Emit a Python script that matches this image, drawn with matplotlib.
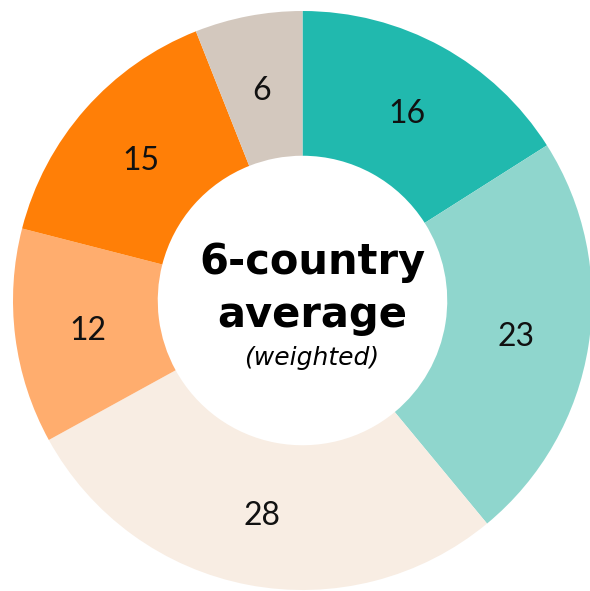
import matplotlib
matplotlib.use("Agg")
import matplotlib.pyplot as plt

values = [16, 23, 28, 12, 15, 6]
labels = ["16", "23", "28", "12", "15", "6"]
colors = ["#21B9AE", "#8FD6CD", "#F8EDE3", "#FFAD6E", "#FF7F07", "#D3C8BE"]

plt.rcParams["font.family"] = ["Lato", "DejaVu Sans"]

fig = plt.figure(figsize=(5.9, 5.91), dpi=100)
ax = fig.add_axes([0, 0, 1, 1])

cx, cy, r = 302.5, 290.5, 289.5
wedges, texts = ax.pie(
    values,
    labels=labels,
    colors=colors,
    startangle=90,
    counterclock=False,
    center=(cx, cy),
    radius=r,
    labeldistance=0.746,
    wedgeprops=dict(width=r * 0.5, linewidth=0),
    textprops=dict(fontsize=23, color="#111111", ha="center",
                   va="center_baseline"),
    frame=True,
)
ax.set_xlim(0, 590)
ax.set_ylim(0, 591)
ax.set_aspect("equal")
ax.axis("off")

tx = 312
ax.text(tx, 591 - 262, "6-country", ha="center", va="center",
        fontsize=30, fontweight="bold", family="DejaVu Sans", color="black")
ax.text(tx, 591 - 315, "average", ha="center", va="center",
        fontsize=30, fontweight="bold", family="DejaVu Sans", color="black")
ax.text(tx, 591 - 358, "(weighted)", ha="center", va="center",
        fontsize=18, fontstyle="italic", family="DejaVu Sans", color="black")

fig.savefig("out.png", dpi=100)
